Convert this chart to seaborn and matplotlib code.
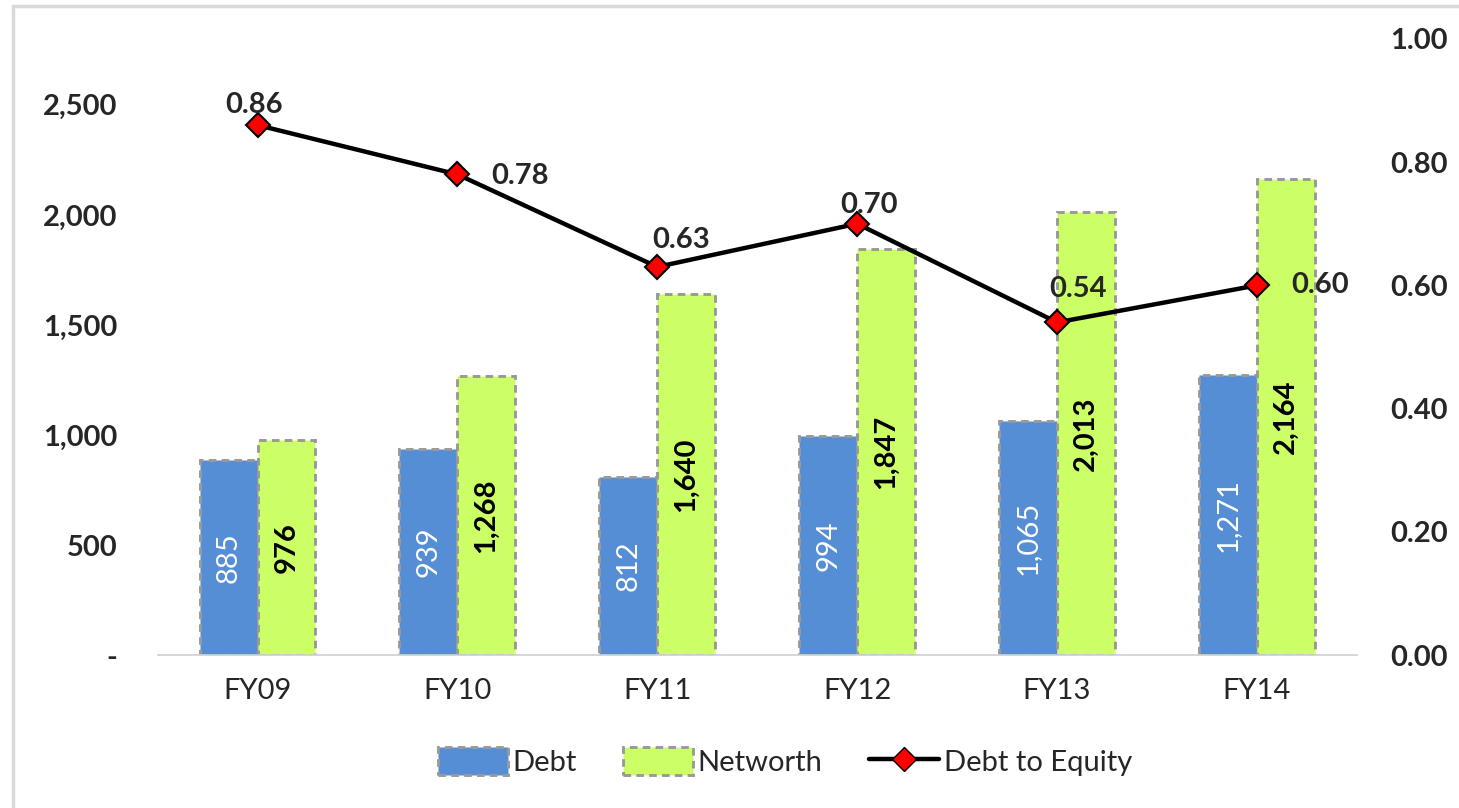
import numpy as np
import pandas as pd
import matplotlib
matplotlib.use("Agg")
import matplotlib.pyplot as plt
import seaborn as sns
from matplotlib.patches import Patch, Rectangle
from matplotlib.lines import Line2D
from matplotlib.ticker import FuncFormatter

years = ["FY09", "FY10", "FY11", "FY12", "FY13", "FY14"]
debt = [885, 939, 812, 994, 1065, 1271]
networth = [976, 1268, 1640, 1847, 2013, 2164]
debt_to_equity = [0.86, 0.78, 0.63, 0.70, 0.54, 0.60]

blue = "#558ED5"
green = "#CCFF66"
edge = "#999999"
dash = (0, (2.6, 1.8))
fs = 21

df = pd.DataFrame({
    "Year": years * 2,
    "Value": debt + networth,
    "Series": ["Debt"] * len(years) + ["Networth"] * len(years),
})

sns.set_style("white")
plt.rcParams["font.family"] = ["Lato", "DejaVu Sans"]

fig = plt.figure(figsize=(14.59, 8.08), dpi=100)
ax = fig.add_axes([0.108, 0.189, 0.822, 0.763])

sns.barplot(data=df, x="Year", y="Value", hue="Series", order=years,
            palette=[blue, green], width=0.58, gap=0, saturation=1,
            legend=False, ax=ax)

for p in ax.patches:
    p.set_edgecolor(edge)
    p.set_linestyle(dash)
    p.set_linewidth(2.1)

ax.bar_label(ax.containers[0], labels=[f"{v:,}" for v in debt], label_type="center",
             rotation=90, color="white", fontsize=fs)
ax.bar_label(ax.containers[1], labels=[f"{v:,}" for v in networth], label_type="center",
             rotation=90, color="black", fontsize=fs, fontweight="bold")

ax.set_ylim(0, 2800)
ax.set_xlim(-0.5, 5.5)
ax.set_yticks([0, 500, 1000, 1500, 2000, 2500])
ax.yaxis.set_major_formatter(FuncFormatter(lambda v, _: "-" if v == 0 else f"{v:,.0f}"))
ax.set_xlabel("")
ax.set_ylabel("")
ax.tick_params(axis="y", length=0, pad=29, labelsize=fs)
ax.tick_params(axis="x", length=0, pad=16, labelsize=fs)
for t in ax.get_yticklabels():
    t.set_fontweight("bold")
for s in ["left", "right", "top"]:
    ax.spines[s].set_visible(False)
ax.spines["bottom"].set_color("#d0d0d0")
ax.spines["bottom"].set_linewidth(1.2)

ax2 = ax.twinx()
xpos = np.arange(len(years))
ax2.plot(xpos, debt_to_equity, color="black", lw=3.2, marker="D", markersize=12,
         markerfacecolor="red", markeredgecolor="black", markeredgewidth=1.5, zorder=5)
ax2.set_ylim(0, 1.0)
ax2.set_yticks([0, 0.2, 0.4, 0.6, 0.8, 1.0])
ax2.yaxis.set_major_formatter(FuncFormatter(lambda v, _: f"{v:.2f}"))
ax2.tick_params(axis="y", length=0, pad=24, labelsize=fs)
for t in ax2.get_yticklabels():
    t.set_fontweight("bold")
for s in ax2.spines.values():
    s.set_visible(False)

# label offsets in pixels: (dx, dy, horizontal alignment)
offsets = [(-3, 20, "center"), (34, -2, "left"), (24, 27, "center"),
           (12, 19, "center"), (21, 33, "center"), (34, 0, "left")]
for x, v, (dx, dy, ha) in zip(xpos, debt_to_equity, offsets):
    ax2.annotate(f"{v:.2f}", (x, v), xytext=(dx, dy), textcoords="offset pixels",
                 ha=ha, va="center", fontsize=fs, fontweight="bold", zorder=6)

handles = [
    Patch(facecolor=blue, edgecolor=edge, linestyle=dash, linewidth=2.1, label="Debt"),
    Patch(facecolor=green, edgecolor=edge, linestyle=dash, linewidth=2.1, label="Networth"),
    Line2D([0], [0], color="black", lw=3.2, marker="D", markersize=12, markerfacecolor="red",
           markeredgecolor="black", label="Debt to Equity"),
]
fig.legend(handles=handles, loc="center", bbox_to_anchor=(0.538, 0.057), ncol=3,
           frameon=False, fontsize=fs, handlelength=2.4, handleheight=1.1,
           handletextpad=0.15, columnspacing=1.6)

fig.patches.append(Rectangle((13 / 1459, -0.05), 1.2, 1 - 6 / 808 + 0.05, transform=fig.transFigure,
                             fill=False, edgecolor="#d9d9d9", linewidth=2.5, zorder=0))

fig.savefig("out.png", dpi=100)
